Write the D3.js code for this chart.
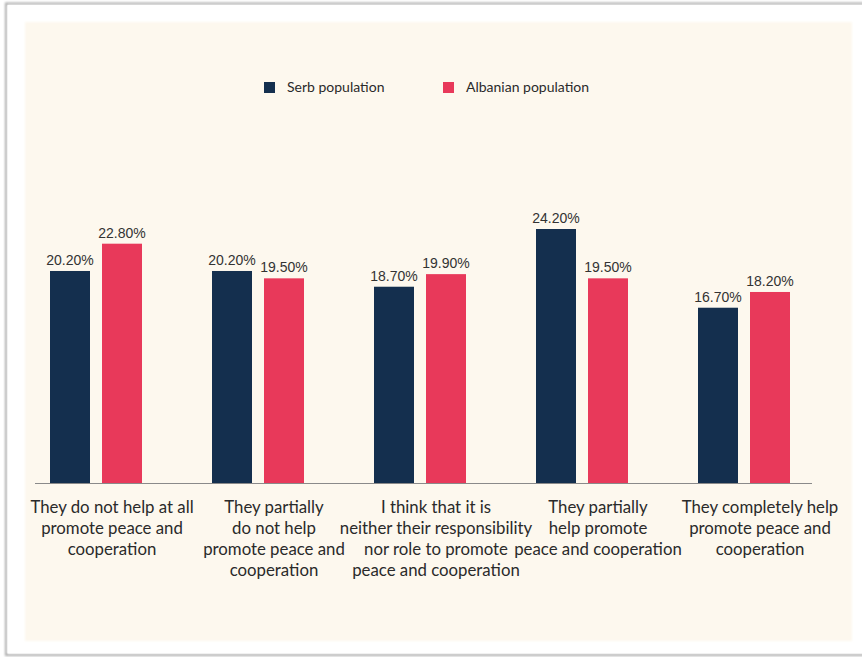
<!DOCTYPE html>
<html>
<head>
<meta charset="utf-8">
<script src="https://cdn.jsdelivr.net/npm/d3@7"></script>
<style>
  html, body { margin: 0; padding: 0; background: #ffffff; }
  svg { display: block; }
</style>
</head>
<body>
<svg id="chart" width="862" height="657"></svg>
<script>
// Survey answers (one group of bars per answer)
const categories = [
  "They do not help at all promote peace and cooperation",
  "They partially do not help promote peace and cooperation",
  "I think that it is neither their responsibility nor role to promote peace and cooperation",
  "They partially help promote peace and cooperation",
  "They completely help promote peace and cooperation"
];
// Wrapped lines of each category label
const categoryLines = [
  ["They do not help at all", "promote peace and", "cooperation"],
  ["They partially", "do not help", "promote peace and", "cooperation"],
  ["I think that it is", "neither their responsibility", "nor role to promote", "peace and cooperation"],
  ["They partially", "help promote", "peace and cooperation"],
  ["They completely help", "promote peace and", "cooperation"]
];
const seriesNames = ["Serb population", "Albanian population"];
const serbValues = [20.2, 20.2, 18.7, 24.2, 16.7];
const albanianValues = [22.8, 19.5, 19.9, 19.5, 18.2];

const colors = { "Serb population": "#142f4e", "Albanian population": "#e8395a" };

const svg = d3.select("#chart");

// drop shadow for the white card
const defs = svg.append("defs");
const sh = defs.append("filter").attr("id", "cardShadow")
  .attr("x", "-5%").attr("y", "-5%").attr("width", "110%").attr("height", "110%");
sh.append("feGaussianBlur").attr("stdDeviation", 1.2);
const soft = defs.append("filter").attr("id", "softEdge")
  .attr("x", "-2%").attr("y", "-2%").attr("width", "104%").attr("height", "104%");
soft.append("feGaussianBlur").attr("stdDeviation", 0.8);

// card outline
svg.append("rect")
  .attr("x", 6).attr("y", 3.5).attr("width", 880).attr("height", 651.5)
  .attr("fill", "none").attr("stroke", "#a9a9a9").attr("stroke-width", 2)
  .attr("filter", "url(#cardShadow)");
svg.append("rect")
  .attr("x", 7.5).attr("y", 5).attr("width", 870).attr("height", 648.5)
  .attr("fill", "#ffffff");

// cream plot panel
svg.append("rect")
  .attr("x", 25).attr("y", 22).attr("width", 827).attr("height", 619)
  .attr("fill", "#fdf8ee").attr("filter", "url(#softEdge)");

// scales
const baseY = 483;
const x0 = d3.scaleBand().domain(categories).range([15, 825]).paddingInner(0);
const x1 = d3.scaleBand().domain(seriesNames).range([0, 92]).paddingInner(0.2308);
const y = d3.scaleLinear().domain([0, 24.2]).range([baseY, baseY - 254]);

const rows = categories.map((c, i) => ({
  category: c,
  values: [
    { series: seriesNames[0], value: serbValues[i] },
    { series: seriesNames[1], value: albanianValues[i] }
  ]
}));

const groups = svg.append("g").selectAll("g")
  .data(rows).join("g")
  .attr("transform", d => `translate(${x0(d.category) + x0.bandwidth() / 2 - 46},0)`);

groups.selectAll("rect")
  .data(d => d.values).join("rect")
  .attr("x", d => x1(d.series))
  .attr("y", d => y(d.value))
  .attr("width", x1.bandwidth())
  .attr("height", d => baseY - y(d.value))
  .attr("fill", d => colors[d.series]);

groups.selectAll("text.val")
  .data(d => d.values).join("text")
  .attr("class", "val")
  .attr("x", d => x1(d.series) + x1.bandwidth() / 2)
  .attr("y", d => y(d.value) - 6)
  .attr("text-anchor", "middle")
  .attr("font-family", "'Liberation Sans', Arial, sans-serif")
  .attr("font-size", 14)
  .attr("fill", "#333333")
  .text(d => d.value.toFixed(2) + "%");

// baseline
svg.append("line")
  .attr("x1", 35).attr("x2", 812)
  .attr("y1", baseY + 0.5).attr("y2", baseY + 0.5)
  .attr("stroke", "#8a8a8a").attr("stroke-width", 1.2);

// category labels
const labelOffset = 16;
const labels = svg.append("g").selectAll("text")
  .data(categories).join("text")
  .attr("x", d => x0(d) + x0.bandwidth() / 2 + labelOffset)
  .attr("y", 513)
  .attr("text-anchor", "middle")
  .attr("font-family", "Lato, 'Open Sans', sans-serif")
  .attr("font-size", 16.8)
  .attr("fill", "#2a2a2a");
labels.each(function (d, i) {
  d3.select(this).selectAll("tspan")
    .data(categoryLines[i]).join("tspan")
    .attr("x", x0(d) + x0.bandwidth() / 2 + labelOffset)
    .attr("dy", (t, j) => j === 0 ? 0 : 21)
    .text(t => t);
});

// legend
const legendItems = [
  { name: seriesNames[0], x: 264 },
  { name: seriesNames[1], x: 443 }
];
const legend = svg.append("g").selectAll("g")
  .data(legendItems).join("g")
  .attr("transform", d => `translate(${d.x},82)`);
legend.append("rect")
  .attr("width", 11).attr("height", 11)
  .attr("fill", d => colors[d.name]);
legend.append("text")
  .attr("x", 23).attr("y", 10)
  .attr("font-family", "Lato, 'Open Sans', sans-serif")
  .attr("font-size", 14)
  .attr("fill", "#2a2a2a")
  .text(d => d.name);
</script>
</body>
</html>
